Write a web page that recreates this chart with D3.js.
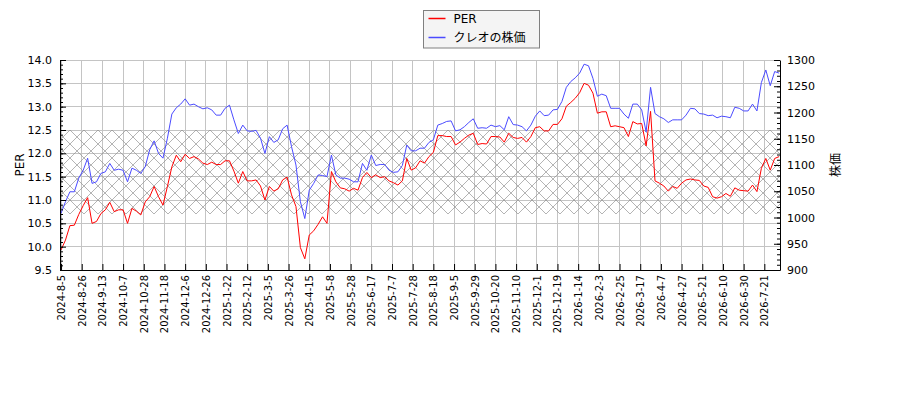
<!DOCTYPE html>
<html>
<head>
<meta charset="utf-8">
<script src="https://cdn.jsdelivr.net/npm/d3@7"></script>
<style>
  body { margin: 0; background: #fff; }
  svg { font-family: "DejaVu Sans", "Noto Sans CJK JP", sans-serif; }
</style>
</head>
<body>
<div id="chart"></div>
<script>
// sampled every 3 trading days, starting 2024-8-5
const step = 3
const per = [
  9.93, 10.14, 10.45, 10.46, 10.69, 10.88, 11.05, 10.50, 10.54, 10.71,
  10.79, 10.95, 10.75, 10.79, 10.79, 10.50, 10.82, 10.76, 10.68, 10.96,
  11.07, 11.29, 11.07, 10.89, 11.29, 11.71, 11.96, 11.82, 11.98, 11.89,
  11.93, 11.88, 11.79, 11.76, 11.81, 11.76, 11.76, 11.84, 11.84, 11.62,
  11.36, 11.61, 11.41, 11.41, 11.43, 11.30, 11.00, 11.29, 11.19, 11.24,
  11.43, 11.49, 11.11, 10.86, 9.98, 9.74, 10.25, 10.34, 10.48, 10.64,
  10.50, 11.61, 11.39, 11.26, 11.24, 11.19, 11.25, 11.21, 11.48, 11.59,
  11.48, 11.54, 11.48, 11.50, 11.41, 11.37, 11.32, 11.41, 11.89, 11.64,
  11.69, 11.84, 11.79, 11.93, 12.02, 12.38, 12.38, 12.36, 12.36, 12.18,
  12.24, 12.32, 12.39, 12.43, 12.19, 12.21, 12.20, 12.36, 12.36, 12.35,
  12.24, 12.43, 12.34, 12.32, 12.34, 12.24, 12.36, 12.55, 12.57, 12.48,
  12.48, 12.62, 12.62, 12.74, 13.01, 13.09, 13.18, 13.30, 13.50, 13.46,
  13.29, 12.86, 12.89, 12.89, 12.57, 12.59, 12.57, 12.55, 12.36, 12.68,
  12.63, 12.64, 12.16, 12.90, 11.41, 11.36, 11.30, 11.19, 11.29, 11.25,
  11.36, 11.43, 11.45, 11.43, 11.42, 11.30, 11.27, 11.07, 11.04, 11.07,
  11.14, 11.08, 11.26, 11.21, 11.20, 11.19, 11.32, 11.18, 11.68, 11.89,
  11.64, 11.89, 11.93
]
const price = [
  1008, 1030, 1049, 1049, 1075, 1090, 1113, 1065, 1068, 1084,
  1087, 1103, 1090, 1092, 1090, 1068, 1094, 1090, 1084, 1097,
  1129, 1146, 1122, 1113, 1151, 1197, 1209, 1216, 1226, 1214,
  1216, 1211, 1207, 1209, 1205, 1195, 1195, 1208, 1214, 1186,
  1160, 1176, 1165, 1164, 1166, 1151, 1122, 1154, 1143, 1148,
  1169, 1176, 1135, 1100, 1030, 998, 1052, 1065, 1081, 1080,
  1078, 1119, 1081, 1075, 1075, 1073, 1068, 1068, 1103, 1090,
  1119, 1099, 1101, 1101, 1090, 1086, 1087, 1099, 1138, 1127,
  1127, 1132, 1132, 1143, 1148, 1176, 1179, 1183, 1184, 1165,
  1167, 1173, 1181, 1188, 1170, 1171, 1170, 1176, 1173, 1175,
  1167, 1192, 1177, 1176, 1173, 1165, 1176, 1193, 1203, 1194,
  1195, 1205, 1206, 1221, 1248, 1259, 1266, 1275, 1292, 1289,
  1265, 1231, 1235, 1232, 1208, 1208, 1208, 1197, 1189, 1216,
  1216, 1205, 1163, 1248, 1198, 1192, 1188, 1181, 1186, 1186,
  1186, 1195, 1208, 1207, 1198, 1197, 1194, 1195, 1190, 1193,
  1192, 1190, 1210, 1208, 1203, 1203, 1216, 1203, 1257, 1281,
  1251, 1278, 1275
]
// one label every 14 trading days
const tickEvery = 14
const xTickLabels = [
  '2024-8-5', '2024-8-26', '2024-9-13', '2024-10-7', '2024-10-28', '2024-11-18',
  '2024-12-6', '2024-12-26', '2025-1-22', '2025-2-12', '2025-3-5', '2025-3-26',
  '2025-4-15', '2025-5-8', '2025-5-28', '2025-6-17', '2025-7-7', '2025-7-28',
  '2025-8-18', '2025-9-5', '2025-9-29', '2025-10-20', '2025-11-10', '2025-12-1',
  '2025-12-19', '2026-1-14', '2026-2-3', '2026-2-25', '2026-3-17', '2026-4-7',
  '2026-4-27', '2026-5-21', '2026-6-10', '2026-6-30', '2026-7-21'
]
const perBand = [10.7, 12.5]
const perTicks = [9.5, 10.0, 10.5, 11.0, 11.5, 12.0, 12.5, 13.0, 13.5, 14.0]
const priceTicks = [900, 950, 1000, 1050, 1100, 1150, 1200, 1250, 1300]

const W = 900, H = 400
const m = { left: 60, right: 780, top: 60, bottom: 270 }

const svg = d3.select('#chart').append('svg')
  .attr('width', W).attr('height', H)

const defs = svg.append('defs')
const pat = defs.append('pattern')
  .attr('id', 'hatch')
  .attr('patternUnits', 'userSpaceOnUse')
  .attr('width', 14).attr('height', 14)
  .attr('patternTransform', 'translate(0,4)')
for (const d of ['M0,0L14,14', 'M14,0L0,14']) {
  pat.append('path').attr('d', d)
    .attr('stroke', '#8c8c8c').attr('stroke-opacity', 0.65)
    .attr('stroke-width', 1).attr('fill', 'none')
}

const x = d3.scaleLinear().domain([-0.7, 486.6]).range([m.left, m.right])
const yL = d3.scaleLinear().domain([9.5, 14]).range([m.bottom, m.top])
const yR = d3.scaleLinear().domain([900, 1300]).range([m.bottom, m.top])

const xTickIdx = xTickLabels.map((d, i) => i * tickEvery)

// grid
const grid = svg.append('g').attr('stroke', '#c4c4c4').attr('stroke-width', 1)
  .attr('shape-rendering', 'crispEdges')
grid.selectAll('.gh').data(perTicks).enter().append('line')
  .attr('x1', m.left).attr('x2', m.right)
  .attr('y1', d => yL(d)).attr('y2', d => yL(d))
grid.selectAll('.gv').data(xTickIdx).enter().append('line')
  .attr('x1', d => x(d)).attr('x2', d => x(d))
  .attr('y1', m.top).attr('y2', m.bottom)

// band
svg.append('rect')
  .attr('x', m.left).attr('width', m.right - m.left)
  .attr('y', yL(perBand[1])).attr('height', yL(perBand[0]) - yL(perBand[1]))
  .attr('fill', 'url(#hatch)')

const clip = defs.append('clipPath').attr('id', 'plot')
clip.append('rect').attr('x', m.left).attr('y', m.top)
  .attr('width', m.right - m.left).attr('height', m.bottom - m.top)

const linePer = d3.line().x((d, i) => x(i * step)).y(d => yL(d))
const linePrice = d3.line().x((d, i) => x(i * step)).y(d => yR(d))

svg.append('path').datum(per)
  .attr('clip-path', 'url(#plot)')
  .attr('d', linePer).attr('fill', 'none')
  .attr('stroke', '#ff0000').attr('stroke-width', 1)
svg.append('path').datum(price)
  .attr('clip-path', 'url(#plot)')
  .attr('d', linePrice).attr('fill', 'none')
  .attr('stroke', '#4b4bff').attr('stroke-width', 1)

// axes
const minorPer = d3.range(95, 141).map(d => d / 10)
const minorPrice = d3.range(900, 1301, 10)

svg.append('g').attr('transform', `translate(${m.left},0)`)
  .call(d3.axisLeft(yL).tickValues(minorPer).tickSize(-3).tickFormat(''))
  .call(g => g.select('.domain').remove())
  .call(g => g.selectAll('line').attr('stroke', '#000'))
svg.append('g').attr('transform', `translate(${m.right},0)`)
  .call(d3.axisRight(yR).tickValues(minorPrice).tickSize(-3).tickFormat(''))
  .call(g => g.select('.domain').remove())
  .call(g => g.selectAll('line').attr('stroke', '#000'))

const axL = svg.append('g').attr('transform', `translate(${m.left},0)`)
  .call(d3.axisLeft(yL).tickValues(perTicks).tickSizeInner(-6).tickSizeOuter(0)
    .tickPadding(8).tickFormat(d3.format('.1f')))
const axR = svg.append('g').attr('transform', `translate(${m.right},0)`)
  .call(d3.axisRight(yR).tickValues(priceTicks).tickSizeInner(-6).tickSizeOuter(0)
    .tickPadding(7).tickFormat(d3.format('d')))
const axB = svg.append('g').attr('transform', `translate(0,${m.bottom})`)
  .call(d3.axisBottom(x).tickValues(xTickIdx).tickSizeInner(-6).tickSizeOuter(0)
    .tickFormat((d, i) => xTickLabels[i]))
axB.selectAll('text')
  .attr('transform', 'rotate(-90)')
  .attr('text-anchor', 'end')
  .attr('x', -5).attr('y', 0).attr('dy', '0.35em')

for (const g of [axL, axR, axB]) {
  g.attr('font-family', null)
  g.selectAll('text').attr('fill', '#000').style('font-size', '11px')
  g.selectAll('line').attr('stroke', '#000')
  g.select('.domain').attr('stroke', '#000')
}
axB.selectAll('text').style('font-size', '10px')

// axis titles
svg.append('text').attr('transform', `translate(24,${(m.top + m.bottom) / 2}) rotate(-90)`)
  .attr('text-anchor', 'middle').style('font-size', '12px').text('PER')
svg.append('text').attr('transform', `translate(840,${(m.top + m.bottom) / 2}) rotate(-90)`)
  .attr('text-anchor', 'middle').style('font-size', '12px').text('株価')

// legend
const lg = svg.append('g').attr('transform', 'translate(423.5,10.5)')
lg.append('rect').attr('width', 116).attr('height', 37.5)
  .attr('fill', '#f4f4f4').attr('stroke', '#808080').attr('stroke-width', 1)
const items = [['PER', '#ff0000'], ['クレオの株価', '#4b4bff']]
items.forEach(([name, col], i) => {
  const yy = 8 + i * 19
  lg.append('line').attr('x1', 5).attr('x2', 22).attr('y1', yy).attr('y2', yy)
    .attr('stroke', col).attr('stroke-width', 1.5)
  lg.append('text').attr('x', 30).attr('y', yy + 4).style('font-size', '12px').text(name)
})
</script>
</body>
</html>
